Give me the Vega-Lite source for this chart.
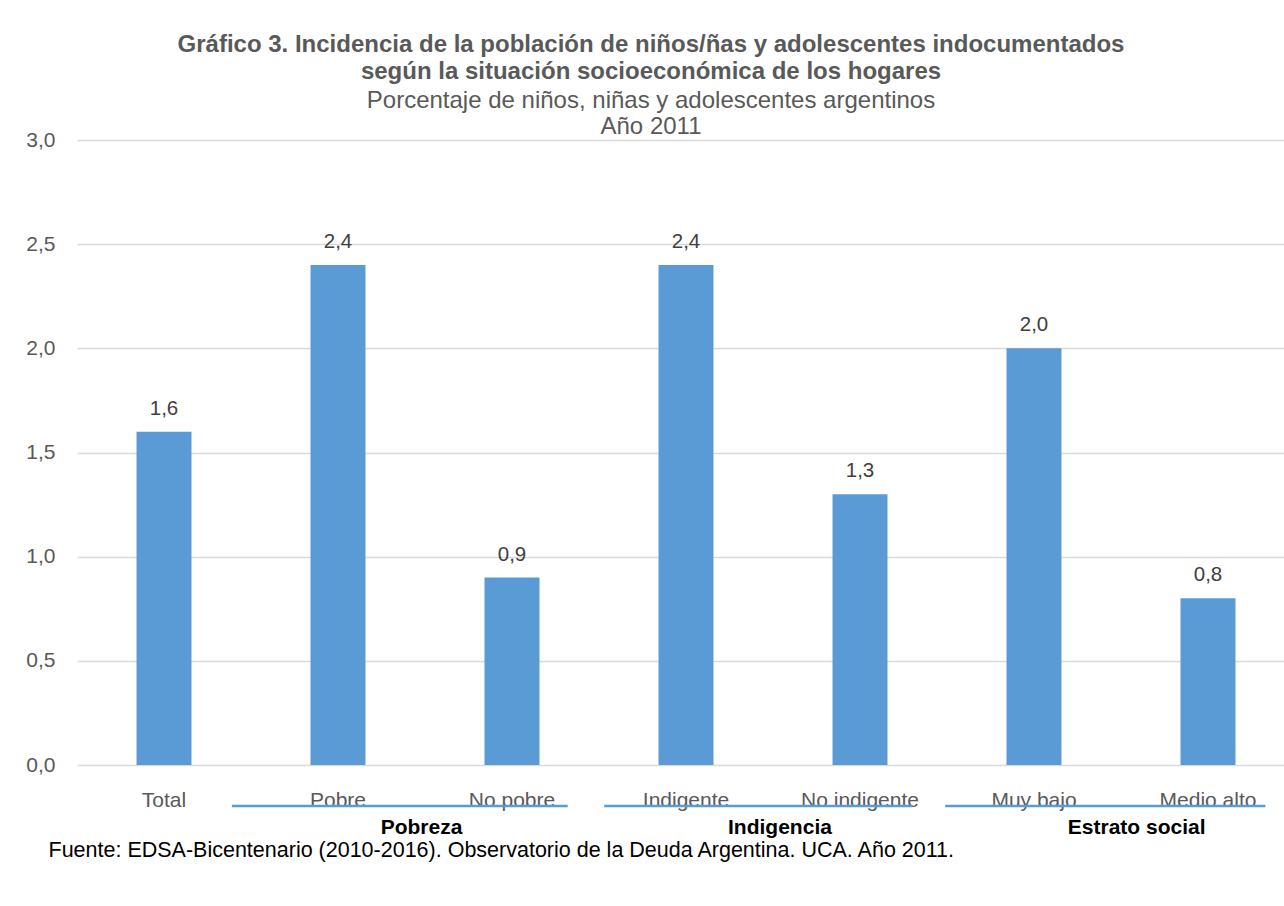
{
  "$schema": "https://vega.github.io/schema/vega-lite/v6.json",
  "width": 1218,
  "height": 625,
  "autosize": {"type": "none"},
  "padding": {"left": 77, "top": 140, "right": 0, "bottom": 141},
  "background": "white",
  "config": {
    "font": "Liberation Sans",
    "view": {"stroke": null},
    "locale": {"number": {"decimal": ",", "thousands": ".", "grouping": [3], "currency": ["$", ""]}}
  },
  "title": {
    "text": ["Gráfico 3. Incidencia de la población de niños/ñas y adolescentes indocumentados", "según la situación socioeconómica de los hogares"],
    "subtitle": ["Porcentaje de niños, niñas y adolescentes argentinos", "Año 2011"],
    "anchor": "middle",
    "dx": -35,
    "fontSize": 24,
    "fontWeight": "bold",
    "color": "#595959",
    "subtitleFontSize": 24,
    "subtitleColor": "#595959",
    "subtitleFontWeight": "normal",
    "lineHeight": 27,
    "subtitleLineHeight": 26,
    "subtitlePadding": 5,
    "offset": -10
  },
  "datasets": {
    "barras": [
      {"categoria": "Total", "valor": 1.6},
      {"categoria": "Pobre", "valor": 2.4},
      {"categoria": "No pobre", "valor": 0.9},
      {"categoria": "Indigente", "valor": 2.4},
      {"categoria": "No indigente", "valor": 1.3},
      {"categoria": "Muy bajo", "valor": 2.0},
      {"categoria": "Medio alto", "valor": 0.8}
    ],
    "grupos": [
      {"grupo": "Pobreza", "inicio": 0.89, "fin": 2.82, "centro": 1.98},
      {"grupo": "Indigencia", "inicio": 3.03, "fin": 4.8, "centro": 4.04},
      {"grupo": "Estrato social", "inicio": 4.99, "fin": 6.83, "centro": 6.09}
    ]
  },
  "resolve": {"scale": {"x": "independent"}, "axis": {"x": "independent"}},
  "layer": [
    {
      "data": {"name": "barras"},
      "encoding": {
        "x": {
          "field": "categoria",
          "type": "nominal",
          "sort": null,
          "scale": {"paddingInner": 0.684, "paddingOuter": 0.342},
          "axis": {
            "title": "Fuente: EDSA-Bicentenario (2010-2016). Observatorio de la Deuda Argentina. UCA. Año 2011.",
            "titleX": -29,
            "titleY": 85,
            "titleAlign": "left",
            "titleAnchor": null,
            "titleBaseline": "middle",
            "titleFontSize": 21.5,
            "titleFontWeight": "normal",
            "titleColor": "#000000",
            "labelFontSize": 21,
            "labelColor": "#595959",
            "labelPadding": 24,
            "labelAngle": 0,
            "domain": false,
            "ticks": false,
            "grid": false
          }
        },
        "y": {
          "field": "valor",
          "type": "quantitative",
          "scale": {"domain": [0, 3], "nice": false},
          "axis": {
            "values": [0, 0.5, 1, 1.5, 2, 2.5, 3],
            "format": ".1f",
            "title": null,
            "labelFontSize": 21,
            "labelColor": "#595959",
            "labelPadding": 22,
            "domain": false,
            "ticks": false,
            "gridColor": "#d9d9d9",
            "gridWidth": 1.5
          }
        }
      },
      "layer": [
        {"mark": {"type": "bar", "color": "#5B9BD5"}},
        {
          "mark": {"type": "text", "dy": -23, "fontSize": 20.5, "color": "#404040", "baseline": "middle"},
          "encoding": {"text": {"field": "valor", "type": "quantitative", "format": ".1f"}}
        }
      ]
    },
    {
      "data": {"name": "grupos"},
      "layer": [
        {
          "mark": {"type": "rule", "color": "#5B9BD5", "strokeWidth": 2.5},
          "encoding": {
            "x": {"field": "inicio", "type": "quantitative", "scale": {"domain": [0, 7], "nice": false, "zero": false}, "axis": null},
            "x2": {"field": "fin"},
            "y": {"datum": -0.197, "type": "quantitative"}
          }
        },
        {
          "mark": {"type": "text", "fontSize": 21, "fontWeight": "bold", "color": "#000000", "baseline": "middle"},
          "encoding": {
            "x": {"field": "centro", "type": "quantitative", "scale": {"domain": [0, 7], "nice": false, "zero": false}, "axis": null},
            "y": {"datum": -0.302, "type": "quantitative"},
            "text": {"field": "grupo"}
          }
        }
      ]
    }
  ]
}
